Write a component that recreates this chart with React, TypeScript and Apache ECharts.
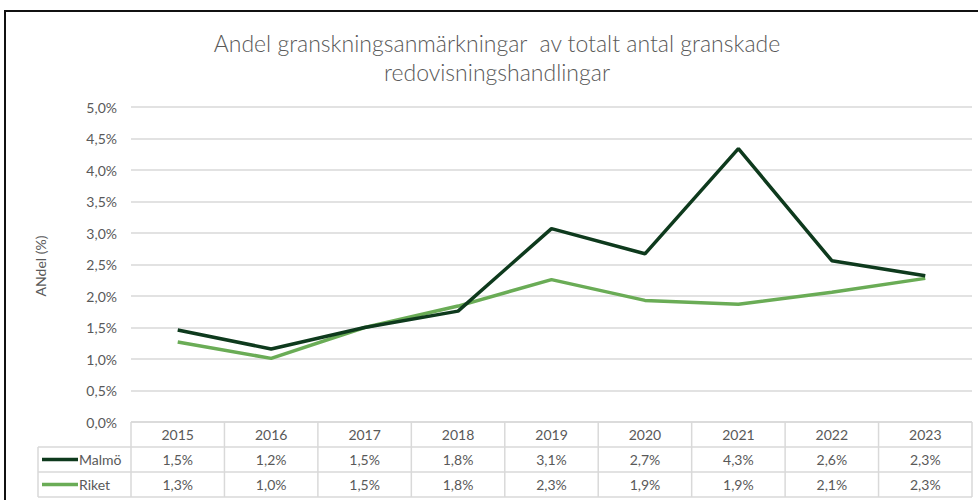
import React, { useEffect, useRef } from "react";
import * as echarts from "echarts";

const years = ["2015", "2016", "2017", "2018", "2019", "2020", "2021", "2022", "2023"];
const malmo = [1.46, 1.16, 1.5, 1.76, 3.07, 2.67, 4.34, 2.56, 2.32];
const riket = [1.27, 1.01, 1.5, 1.84, 2.26, 1.93, 1.87, 2.06, 2.28];
const seriesNames = ["Malmö", "Riket"];
const seriesColors = ["#0e3a1d", "#6aac56"];
const titleLines = ["Andel granskningsanmärkningar  av totalt antal granskade", "redovisningshandlingar"];
const yAxisTitle = "ANdel (%)";

const W = 978;
const H = 500;
const GL = 131;
const GR = 972;
const GT = 107;
const GB = 422;
const ROW = 25;
const LEG_L = 38;
const FONT = "Lato, 'Open Sans', sans-serif";
const TXT = "#595959";
const BORDER = "#d9d9d9";

const fmt = (v: number) => v.toFixed(1).replace(".", ",") + "%";

export default function App() {
  const ref = useRef<HTMLDivElement>(null);
  useEffect(() => {
    if (!ref.current) return;
    const chart = echarts.init(ref.current, undefined, { renderer: "svg" });
    const colW = (GR - GL) / years.length;
    const g: any[] = [];
    // frame
    g.push({ type: "rect", shape: { x: 5, y: 11, width: 1200, height: 800 }, style: { fill: "none", stroke: "#111", lineWidth: 2 }, silent: true });
    // title
    titleLines.forEach((t, i) => {
      g.push({ type: "text", x: 497, y: 43 + i * 29, style: { text: t, fill: TXT, font: `300 23px ${FONT}`, align: "center", verticalAlign: "middle" } });
    });
    // y axis title
    g.push({ type: "text", x: 40, y: 266, rotation: Math.PI / 2, style: { text: yAxisTitle, fill: TXT, font: `14px ${FONT}`, align: "center", verticalAlign: "middle" } });
    // table lines
    const ln = (x1: number, y1: number, x2: number, y2: number) =>
      g.push({ type: "line", shape: { x1, y1, x2, y2 }, style: { stroke: BORDER, lineWidth: 1.5 }, silent: true });
    ln(GL, GB, GR, GB);
    ln(LEG_L, GB + ROW, GR, GB + ROW);
    ln(LEG_L, GB + 2 * ROW, GR, GB + 2 * ROW);
    ln(LEG_L, GB + 3 * ROW, GR, GB + 3 * ROW);
    ln(LEG_L, GB + ROW, LEG_L, GB + 3 * ROW);
    for (let i = 0; i <= years.length; i++) {
      ln(GL + i * colW, GB, GL + i * colW, GB + 3 * ROW);
    }
    years.forEach((y, i) => {
      const cx = GL + (i + 0.5) * colW;
      g.push({ type: "text", x: cx, y: GB + ROW / 2, style: { text: y, fill: TXT, font: `14px ${FONT}`, align: "center", verticalAlign: "middle" } });
      [malmo, riket].forEach((arr, r) => {
        g.push({ type: "text", x: cx, y: GB + ROW * (r + 1.5), style: { text: fmt(arr[i]), fill: TXT, font: `14px ${FONT}`, align: "center", verticalAlign: "middle" } });
      });
    });
    seriesNames.forEach((n, r) => {
      const cy = GB + ROW * (r + 1.5);
      g.push({ type: "line", shape: { x1: 42, y1: cy, x2: 78, y2: cy }, style: { stroke: seriesColors[r], lineWidth: 3.5 } });
      g.push({ type: "text", x: 79, y: cy, style: { text: n, fill: TXT, font: `14px ${FONT}`, align: "left", verticalAlign: "middle" } });
    });

    chart.setOption({
      animation: false,
      backgroundColor: "#ffffff",
      grid: { left: GL, right: W - GR, top: GT, bottom: H - GB },
      xAxis: {
        type: "category",
        data: years,
        boundaryGap: true,
        axisLine: { show: false },
        axisTick: { show: false },
        axisLabel: { show: false },
      },
      yAxis: {
        type: "value",
        min: 0,
        max: 5,
        interval: 0.5,
        axisLine: { show: false },
        axisTick: { show: false },
        axisLabel: { formatter: (v: number) => fmt(v), color: TXT, fontSize: 14, fontFamily: FONT, margin: 14 },
        splitLine: { lineStyle: { color: BORDER, width: 1.5 } },
      },
      series: [malmo, riket].map((d, i) => ({
        name: seriesNames[i],
        type: "line",
        data: d,
        symbol: "none",
        lineStyle: { color: seriesColors[i], width: 3.5 },
        itemStyle: { color: seriesColors[i] },
        z: 3 - i,
      })),
      graphic: g,
    });
    return () => chart.dispose();
  }, []);
  return <div ref={ref} style={{ position: "fixed", left: 0, top: 0, width: W, height: H }} />;
}
